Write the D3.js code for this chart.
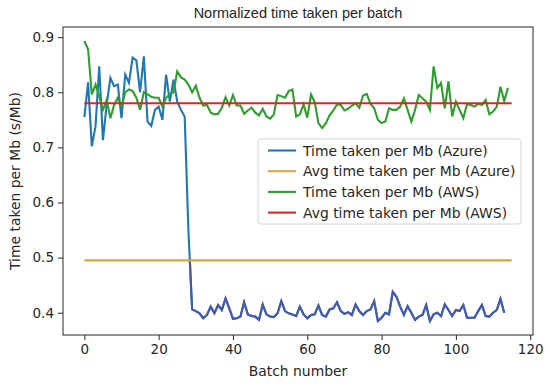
<!DOCTYPE html>
<html>
<head>
<meta charset="utf-8">
<script src="https://cdn.jsdelivr.net/npm/d3@7"></script>
<style>
  body { margin: 0; background: #fff; }
  svg text { font-family: "DejaVu Sans", sans-serif; fill: #262626; }
</style>
</head>
<body>
<svg id="chart" width="550" height="385"></svg>
<script>
// time per Mb, one value per batch
var azure = [
  0.755, 0.818, 0.702, 0.738, 0.847, 0.713, 0.777, 0.826, 0.811, 0.814,
  0.753, 0.832, 0.817, 0.863, 0.858, 0.800, 0.865, 0.747, 0.739, 0.768,
  0.774, 0.750, 0.832, 0.783, 0.823, 0.783, 0.768, 0.756, 0.550, 0.406,
  0.403, 0.399, 0.390, 0.396, 0.411, 0.399, 0.414, 0.405, 0.426, 0.408,
  0.389, 0.390, 0.393, 0.419, 0.397, 0.394, 0.393, 0.387, 0.415, 0.397,
  0.393, 0.392, 0.399, 0.421, 0.403, 0.399, 0.397, 0.394, 0.411, 0.397,
  0.390, 0.396, 0.397, 0.413, 0.396, 0.393, 0.406, 0.408, 0.419, 0.403,
  0.398, 0.401, 0.396, 0.415, 0.403, 0.396, 0.403, 0.406, 0.421, 0.385,
  0.391, 0.400, 0.397, 0.438, 0.429, 0.411, 0.396, 0.412, 0.400, 0.387,
  0.393, 0.396, 0.414, 0.385, 0.397, 0.400, 0.394, 0.415, 0.405, 0.394,
  0.405, 0.403, 0.414, 0.391, 0.391, 0.391, 0.403, 0.414, 0.394, 0.393,
  0.400, 0.405, 0.425, 0.400
];
var aws = [
  0.893, 0.878, 0.796, 0.814, 0.792, 0.768, 0.786, 0.753, 0.777, 0.790,
  0.774, 0.800, 0.805, 0.802, 0.790, 0.768, 0.800, 0.796, 0.792, 0.790,
  0.790, 0.774, 0.790, 0.796, 0.800, 0.838, 0.827, 0.823, 0.814, 0.800,
  0.812, 0.790, 0.776, 0.777, 0.763, 0.760, 0.761, 0.772, 0.791, 0.776,
  0.795, 0.776, 0.776, 0.761, 0.767, 0.772, 0.763, 0.758, 0.770, 0.756,
  0.752, 0.760, 0.795, 0.793, 0.790, 0.802, 0.805, 0.756, 0.760, 0.778,
  0.754, 0.796, 0.782, 0.744, 0.735, 0.744, 0.758, 0.767, 0.778, 0.777,
  0.767, 0.770, 0.776, 0.780, 0.772, 0.794, 0.797, 0.779, 0.771, 0.750,
  0.744, 0.747, 0.771, 0.768, 0.768, 0.774, 0.789, 0.768, 0.747, 0.768,
  0.795, 0.789, 0.783, 0.768, 0.847, 0.808, 0.817, 0.771, 0.820, 0.756,
  0.783, 0.768, 0.753, 0.779, 0.777, 0.774, 0.779, 0.777, 0.786, 0.760,
  0.765, 0.774, 0.810, 0.784, 0.808
];
var azureAvg = 0.495;
var awsAvg = 0.780;
var avgSpan = [0, 115];
var xTicks = [0, 20, 40, 60, 80, 100, 120];
var yTicks = [0.4, 0.5, 0.6, 0.7, 0.8, 0.9];
var legendLabels = [
  "Time taken per Mb (Azure)",
  "Avg time taken per Mb (Azure)",
  "Time taken per Mb (AWS)",
  "Avg time taken per Mb (AWS)"
];
var colors = ["#1f77b4", "#d9a441", "#2ca02c", "#d62728"];
var azureLow = "#4858ad"; // the azure line looks bluer-purple below the avg line

var svg = d3.select("#chart");
var plotL = 63, plotR = 533, plotT = 27, plotB = 335;
var lw = 2.1;

// matplotlib style 5% margins
var xmax = avgSpan[1];
var xpad = xmax * 0.05;
var allY = azure.concat(aws);
var ylo = d3.min(allY), yhi = d3.max(allY);
var ypad = (yhi - ylo) * 0.05;

var x = d3.scaleLinear().domain([-xpad, xmax + xpad]).range([plotL, plotR]);
var y = d3.scaleLinear().domain([ylo - ypad, yhi + ypad]).range([plotB, plotT]);

var line = d3.line()
  .x(function(d, i){ return x(i) })
  .y(function(d){ return y(d) });

// axes
var xAxis = svg.append("g")
  .attr("transform", "translate(0," + plotB + ")")
  .call(d3.axisBottom(x).tickValues(xTicks).tickSize(5).tickPadding(4).tickFormat(d3.format("d")));
var yAxis = svg.append("g")
  .attr("transform", "translate(" + plotL + ",0)")
  .call(d3.axisLeft(y).tickValues(yTicks).tickSize(5).tickPadding(4).tickFormat(d3.format(".1f")));
[xAxis, yAxis].forEach(function(a){
  a.select(".domain").remove();
  a.selectAll("line").attr("stroke", "#262626").attr("stroke-width", 1);
  a.selectAll("text").style("font-size", "13.5px").attr("fill", "#262626");
});

// clip for the lower part of the azure line
svg.append("clipPath").attr("id", "lowClip")
  .append("rect")
  .attr("x", plotL).attr("y", y(azureAvg))
  .attr("width", plotR - plotL).attr("height", plotB - y(azureAvg));

// lines
svg.append("path").datum(azure)
  .attr("d", line).attr("fill", "none")
  .attr("stroke", colors[0]).attr("stroke-width", lw);
svg.append("path").datum(azure)
  .attr("d", line).attr("fill", "none")
  .attr("clip-path", "url(#lowClip)")
  .attr("stroke", azureLow).attr("stroke-width", lw);

svg.append("path")
  .datum([azureAvg, azureAvg])
  .attr("d", d3.line().x(function(d, i){ return x(avgSpan[i]) }).y(function(d){ return y(d) }))
  .attr("stroke", colors[1]).attr("stroke-width", lw);

svg.append("path").datum(aws)
  .attr("d", line).attr("fill", "none")
  .attr("stroke", colors[2]).attr("stroke-width", lw);

svg.append("path")
  .datum([awsAvg, awsAvg])
  .attr("d", d3.line().x(function(d, i){ return x(avgSpan[i]) }).y(function(d){ return y(d) }))
  .attr("stroke", colors[3]).attr("stroke-width", lw);

// frame
svg.append("rect")
  .attr("x", plotL).attr("y", plotT)
  .attr("width", plotR - plotL).attr("height", plotB - plotT)
  .attr("fill", "none").attr("stroke", "#262626").attr("stroke-width", 1);

// titles
svg.append("text")
  .attr("x", (plotL + plotR) / 2).attr("y", 18)
  .attr("text-anchor", "middle")
  .style("font-family", "'Liberation Sans', Arial, sans-serif")
  .style("font-size", "14.5px")
  .text("Normalized time taken per batch");
svg.append("text")
  .attr("x", (plotL + plotR) / 2).attr("y", 376)
  .attr("text-anchor", "middle").style("font-size", "13.9px")
  .text("Batch number");
svg.append("text")
  .attr("transform", "translate(20," + ((plotT + plotB) / 2) + ") rotate(-90)")
  .attr("text-anchor", "middle").style("font-size", "13.9px")
  .text("Time taken per Mb (s/Mb)");

// legend
var lg = svg.append("g").attr("transform", "translate(258,139)");
lg.append("rect")
  .attr("width", 263).attr("height", 85).attr("rx", 3)
  .attr("fill", "#fff").attr("fill-opacity", 0.8)
  .attr("stroke", "#d6d6d6");
legendLabels.forEach(function(t, i){
  var yy = 11.5 + i * 20.7;
  lg.append("line")
    .attr("x1", 10).attr("x2", 38).attr("y1", yy).attr("y2", yy)
    .attr("stroke", colors[i]).attr("stroke-width", lw);
  lg.append("text")
    .attr("x", 45).attr("y", yy + 5)
    .style("font-size", "13.9px")
    .text(t);
});
</script>
</body>
</html>
